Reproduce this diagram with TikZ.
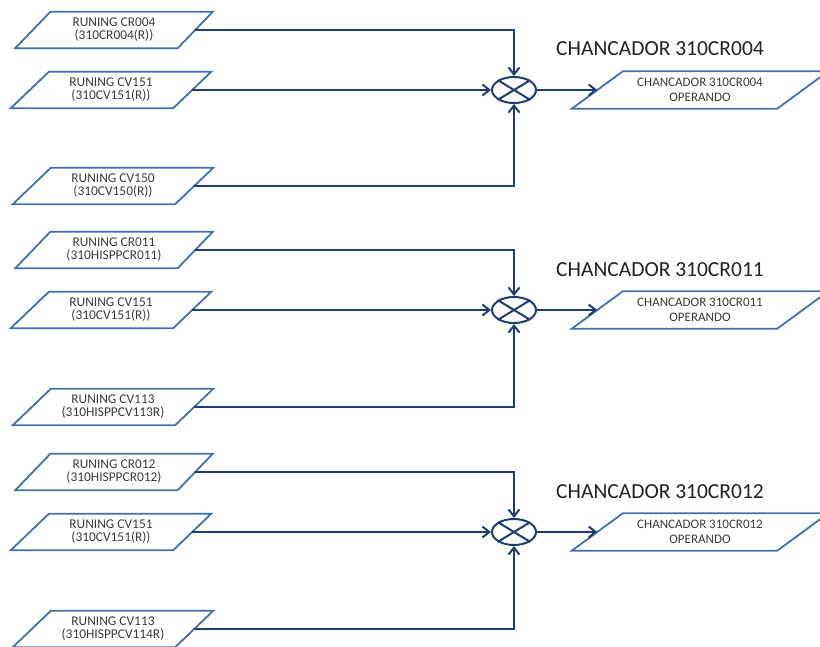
\documentclass[tikz,border=0pt]{standalone}
\usepackage{fontspec}
\setmainfont{Carlito}
\usetikzlibrary{shapes.geometric,arrows.meta,calc}

\definecolor{boxline}{HTML}{4470A5}
\definecolor{wire}{HTML}{1F3E6D}
\definecolor{boxtext}{HTML}{3A3A3A}
\definecolor{titletext}{HTML}{222222}

\tikzset{
  % the node body is the mid-height width of the slanted box, so its
  % west/east anchors sit on the midpoints of the slanted sides
  inbox/.style={rectangle, minimum width=162pt, minimum height=36pt,
    inner sep=0pt, text=boxtext,
    font=\fontsize{13.4}{13}\selectfont, align=center},
  outbox/.style={rectangle, minimum width=205pt, minimum height=37pt,
    inner sep=0pt, text=boxtext,
    font=\fontsize{13}{15}\selectfont, align=center},
  slantline/.style={draw=boxline, line width=1.8pt, line join=miter},
  junction/.style={ellipse, draw=wire, line width=2pt, minimum width=44pt,
    minimum height=26pt, inner sep=0pt},
  conn/.style={draw=wire, line width=2.3pt,
    -{Straight Barb[length=7pt,width=11pt,line width=2pt]}},
  title/.style={text=titletext, font=\fontsize{21.5}{24}\selectfont}
}

\begin{document}
\begin{tikzpicture}[x=1pt,y=-1pt]
\useasboundingbox (0,0) rectangle (820,646);

% ---- 310CR004 ----
\node[inbox] (a1) at (114,30)  {RUNING CR004\\(310CR004(R))};
\node[inbox] (a2) at (111,90)  {RUNING CV151\\(310CV151(R))};
\node[inbox] (a3) at (113,186) {RUNING CV150\\(310CV150(R))};
\node[junction] (ja) at (514,90) {};
\node[outbox] (oa) at (700,90) {CHANCADOR 310CR004\\OPERANDO};
\node[title] (ta) at (660,49) {CHANCADOR 310CR004};

% ---- 310CR011 ----
\node[inbox] (b1) at (114,250) {RUNING CR011\\(310HISPPCR011)};
\node[inbox] (b2) at (111,310) {RUNING CV151\\(310CV151(R))};
\node[inbox] (b3) at (113,407) {RUNING CV113\\(310HISPPCV113R)};
\node[junction] (jb) at (514,310) {};
\node[outbox] (ob) at (700,310) {CHANCADOR 310CR011\\OPERANDO};
\node[title] (tb) at (660,270) {CHANCADOR 310CR011};

% ---- 310CR012 ----
\node[inbox] (c1) at (114,472) {RUNING CR012\\(310HISPPCR012)};
\node[inbox] (c2) at (111,532) {RUNING CV151\\(310CV151(R))};
\node[inbox] (c3) at (113,629) {RUNING CV113\\(310HISPPCV114R)};
\node[junction] (jc) at (514,532) {};
\node[outbox] (oc) at (700,532) {CHANCADOR 310CR012\\OPERANDO};
\node[title] (tc) at (660,492) {CHANCADOR 310CR012};

% slanted outlines around the text boxes (name/half slant)
\foreach \n/\s in {a1/17.5,a2/19,a3/19,b1/17.5,b2/19,b3/19,c1/17.5,c2/19,c3/19,
                   oa/25.5,ob/25.5,oc/25.5}{
  \draw[slantline] ($(\n.south west)+(-\s,0)$) -- ($(\n.north west)+(\s,0)$)
    -- ($(\n.north east)+(\s,0)$) -- ($(\n.south east)+(-\s,0)$) -- cycle;
}

% cross marks inside the junctions
\foreach \j in {ja,jb,jc}{
  \draw[wire, line width=2pt] (\j.north east) -- (\j.south west);
  \draw[wire, line width=2pt] (\j.north west) -- (\j.south east);
}

% connectors
\foreach \i/\j/\o in {a/ja/oa, b/jb/ob, c/jc/oc}{
  \draw[conn] (\i1.east) -| (\j.north);
  \draw[conn] (\i2.east) -- (\j.west);
  \draw[conn] (\i3.east) -| (\j.south);
  \draw[conn] (\j.east) -- (\o.west);
}
\end{tikzpicture}
\end{document}
